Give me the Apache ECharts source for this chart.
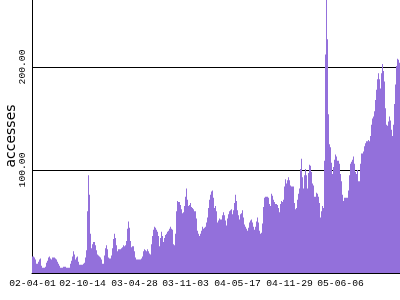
<!DOCTYPE html>
<html><head><meta charset="utf-8">
<script src="https://cdn.jsdelivr.net/npm/echarts@6/dist/echarts.min.js"></script>
<style>html,body{margin:0;padding:0;background:#fff}#c{width:400px;height:300px}</style>
</head><body><div id="c"></div>
<script>
// Values, one per bin (left to right)
var accesses = [
16,16,15,13,9,9,11,13,14,7,5,5,5,6,10,12,15,16,14,13,15,15,15,14,13,11,9,7,5,5,
5,6,6,6,5,5,5,5,9,12,16,21,18,13,15,16,11,8,8,8,8,9,10,15,22,60,95,76,38,24,
28,30,30,27,22,18,17,16,15,13,9,9,17,24,27,23,15,14,14,17,24,33,38,34,27,21,23,23,23,24,
25,27,26,27,31,43,50,44,31,25,26,26,21,15,13,13,13,13,13,14,16,21,23,22,21,23,21,19,18,28,
36,42,45,44,42,40,36,26,34,40,36,30,34,37,38,40,41,43,45,43,42,28,27,38,60,70,69,69,66,62,
58,59,65,74,82,71,65,66,68,64,63,62,60,60,53,41,38,36,38,41,45,43,44,45,49,54,63,71,76,79,
80,73,63,65,60,49,51,53,52,52,56,59,56,51,46,53,57,60,61,62,57,61,68,76,70,61,56,52,57,58,
61,54,47,45,43,41,44,49,51,52,49,45,42,45,50,54,49,41,38,39,48,64,73,74,74,74,73,67,65,77,
75,71,69,67,67,66,63,59,67,70,69,71,84,91,87,90,93,90,85,84,84,84,68,62,63,71,77,82,101,111,
93,82,95,101,95,82,97,105,104,98,87,85,74,74,78,77,74,68,54,60,65,63,109,212,270,227,154,125,
122,107,96,103,110,115,113,109,109,106,96,89,76,70,73,73,73,73,80,95,106,108,110,113,106,98,96,100,
89,89,106,116,116,118,123,126,128,128,129,128,133,144,150,152,157,168,178,188,194,188,179,194,203,196,
186,160,144,143,147,152,148,139,133,144,164,183,201,208,207,204
];
// Tick labels and the bin index each belongs to
var tickLabels = ['02-04-01','02-10-14','03-04-28','03-11-03','04-05-17','04-11-29','05-06-06'];
var tickBins = [0, 50, 102, 153, 205, 257, 308];
var yTicks = [100, 200];

var categories = accesses.map(function(){ return ''; });
tickBins.forEach(function(b, k){ categories[b] = tickLabels[k]; });

var chart = echarts.init(document.getElementById('c'), null, {renderer:'canvas'});
chart.setOption({
  animation: false,
  grid: {left: 32, right: 0, top: -1, bottom: 27, containLabel: false, outerBoundsMode: 'none'},
  xAxis: {
    type: 'category', data: categories, boundaryGap: true,
    axisLine: {show: true, lineStyle: {color: '#000', width: 1}},
    axisTick: {show: false},
    splitLine: {show: false},
    axisLabel: {
      interval: function(i, v){ return v !== ''; },
      color: '#000', fontFamily: 'Liberation Mono', fontSize: 9.7, margin: 5,
      hideOverlap: false
    }
  },
  yAxis: {
    type: 'value', min: 0, max: 266, interval: 100,
    name: 'accesses', nameLocation: 'middle', nameGap: 14, nameMoveOverlap: false,
    nameTextStyle: {color: '#000', fontFamily: 'DejaVu Sans', fontSize: 14},
    axisLine: {show: true, lineStyle: {color: '#000', width: 1}},
    axisTick: {show: false},
    splitLine: {show: true, lineStyle: {color: '#000', width: 1}},
    axisLabel: {
      rotate: 90, showMinLabel: false, showMaxLabel: false, margin: 5,
      color: '#000', fontFamily: 'Liberation Mono', fontSize: 9.7,
      formatter: function(v){ return yTicks.indexOf(v) >= 0 ? v.toFixed(2) : ''; }
    }
  },
  series: [{
    type: 'bar', data: accesses, barCategoryGap: '0%', barGap: '0%',
    itemStyle: {color: '#9370DB'}, clip: true
  }]
});
</script></body></html>
